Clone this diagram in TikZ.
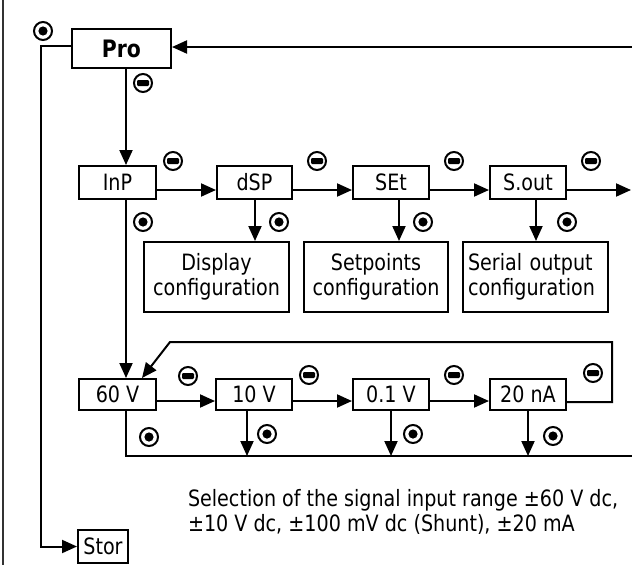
\documentclass[tikz,border=0pt]{standalone}
\usepackage{fontspec}
\setmainfont{DejaVu Sans}[FakeStretch=0.85]
\usetikzlibrary{arrows.meta}
\begin{document}
\begin{tikzpicture}[x=1pt,y=-1pt,line width=2pt,
  font=\fontsize{22.5}{25}\selectfont,
  box/.style={draw,line width=2pt,inner sep=0pt,minimum height=#1},
  box/.default=33pt,
  arr/.style={-{Triangle[length=15pt,width=13pt]}},
  sym/.style={circle,draw,line width=2pt,minimum size=18pt,inner sep=0pt},
  dotsym/.style={sym,path picture={\fill (path picture bounding box.center) circle (4.6pt);}},
  minsym/.style={sym,path picture={\fill[rounded corners=1.2pt] ([xshift=-6pt,yshift=-3pt]path picture bounding box.center) rectangle ++(12pt,6pt);}}]
\path[use as bounding box] (0,0) rectangle (632,565);
\draw[line width=1.5pt,black!80] (3,0) -- (3,565);
% boxes
\node[box=39pt,minimum width=99pt,font=\fontsize{24}{28}\selectfont\bfseries] (pro) at (121.5,48.5) {Pro};
\node[box,minimum width=77pt] (inp) at (117.5,182.5) {InP};
\node[box,minimum width=75pt] (dsp) at (254.5,182.5) {dSP};
\node[box,minimum width=76pt] (set) at (391,182.5) {SEt};
\node[box,minimum width=76pt] (sout) at (528,182.5) {S.out};
\node[box=70pt,minimum width=145pt,align=center] (disp) at (216.5,277) {Display\\configuration};
\node[box=70pt,minimum width=144pt,align=center] (setp) at (376,277) {Setpoints\\configuration};
\node[box=70pt,minimum width=145pt,text width=135pt,align=left] (serial) at (535.5,277) {Serial output\\configuration};
\node[box=31pt,minimum width=77pt] (r60) at (117.5,394.5) {60 V};
\node[box=31pt,minimum width=76pt] (r10) at (254,394.5) {10 V};
\node[box=31pt,minimum width=76pt] (r01) at (391,394.5) {0.1 V};
\node[box=31pt,minimum width=76pt] (r20) at (528,394.5) {20 nA};
\node[box,minimum width=50pt] (stor) at (103,546.5) {Stor};
\node[anchor=west,align=left,inner sep=0pt] (note) at (187,511.5)
  {Selection of the signal input range ±60 V dc,\\±10 V dc, ±100 mV dc (Shunt), ±20 mA};
% coordinates
\coordinate (rin) at (632,47);
\coordinate (lc) at (41,46);
\coordinate (xa) at (126,0);
\coordinate (ya) at (0,190);
\coordinate (outr) at (631,190);
\coordinate (xb) at (255,0);
\coordinate (xc) at (399,0);
\coordinate (xd) at (536,0);
\coordinate (yb) at (0,401);
\coordinate (yc) at (0,402);
\coordinate (fb1) at (612,402);
\coordinate (fb2) at (612,342);
\coordinate (fb3) at (170,342);
\coordinate (xe) at (142,0);
\coordinate (bl) at (126,456);
\coordinate (br) at (632,456);
\coordinate (xf) at (247,0);
\coordinate (xg) at (391,0);
\coordinate (xh) at (528,0);
% connectors
\draw[arr] (rin) -- (pro.east |- rin);
\draw[arr] (pro.west |- lc) -- (lc) |- (stor.west);
\draw[arr] (pro.south -| xa) -- (inp.north -| xa);
\draw[arr] (inp.south -| xa) -- (r60.north -| xa);
\draw[arr] (inp.east |- ya) -- (dsp.west |- ya);
\draw[arr] (dsp.east |- ya) -- (set.west |- ya);
\draw[arr] (set.east |- ya) -- (sout.west |- ya);
\draw[arr] (sout.east |- ya) -- (outr);
\draw[arr] (dsp.south -| xb) -- (disp.north -| xb);
\draw[arr] (set.south -| xc) -- (setp.north -| xc);
\draw[arr] (sout.south -| xd) -- (serial.north -| xd);
\draw[arr] (r60.east |- yb) -- (r10.west |- yb);
\draw[arr] (r10.east |- yb) -- (r01.west |- yb);
\draw[arr] (r01.east |- yb) -- (r20.west |- yb);
\draw[arr] (r20.east |- yc) -- (fb1) -- (fb2) -- (fb3) -- (r60.north -| xe);
\draw (r60.south -| xa) -- (bl) -- (br);
\draw[arr] (r10.south -| xf) -- (bl -| xf);
\draw[arr] (r01.south -| xg) -- (bl -| xg);
\draw[arr] (r20.south -| xh) -- (bl -| xh);
% symbols
\node[dotsym] (d0) at (43,31) {};
\node[minsym] (m0) at (143,83) {};
\node[minsym] (m1) at (173,161) {};
\node[minsym] (m2) at (317,161) {};
\node[minsym] (m3) at (454,161) {};
\node[minsym] (m4) at (591,161) {};
\node[dotsym] (d1) at (143,222) {};
\node[dotsym] (d2) at (279,222) {};
\node[dotsym] (d3) at (423,222) {};
\node[dotsym] (d4) at (567,222) {};
\node[minsym] (m5) at (188,376) {};
\node[minsym] (m6) at (309,375) {};
\node[minsym] (m7) at (454,375) {};
\node[minsym] (m8) at (593,373) {};
\node[dotsym] (d5) at (149,437) {};
\node[dotsym] (d6) at (267,434) {};
\node[dotsym] (d7) at (413,434) {};
\node[dotsym] (d8) at (553,436) {};
\end{tikzpicture}
\end{document}
